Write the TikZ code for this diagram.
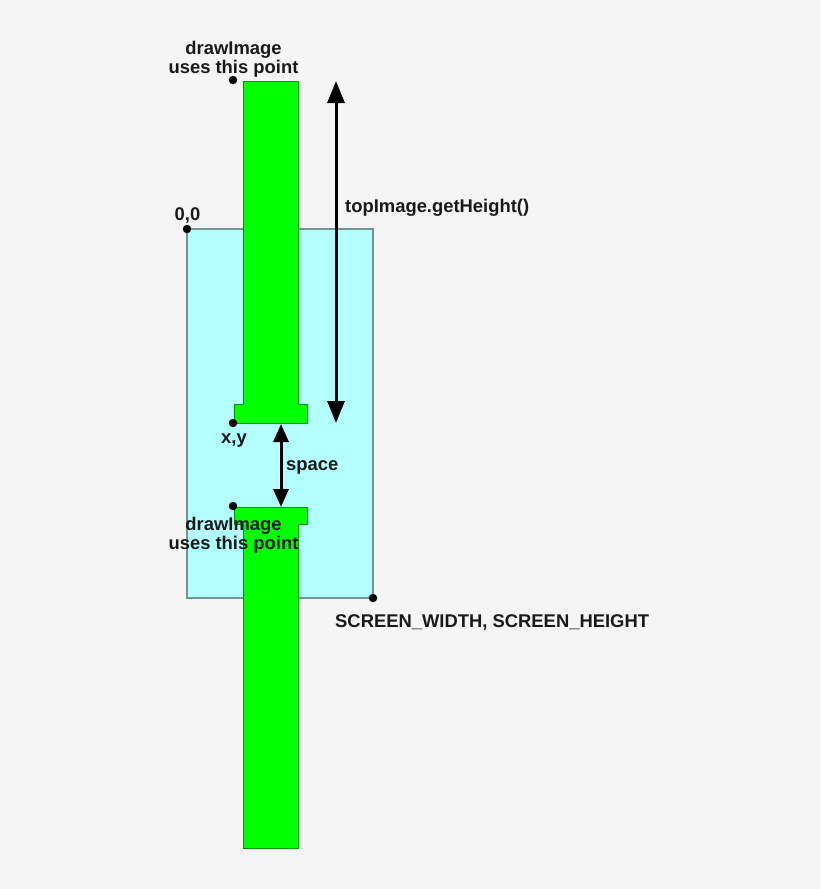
\documentclass[tikz,border=0pt]{standalone}
\usepackage{fontspec}
\setmainfont{Liberation Sans}
\usetikzlibrary{arrows.meta}
\definecolor{bgc}{RGB}{245,245,245}
\definecolor{screenfill}{RGB}{179,255,255}
\definecolor{screenline}{RGB}{110,150,150}
\definecolor{imgfill}{RGB}{0,255,0}
\definecolor{imgline}{RGB}{0,150,0}
\tikzset{
  lbl/.style={font=\fontsize{18.4}{18.5}\selectfont\bfseries, inner sep=0pt, text=black!90},
  dot/.style={circle, fill=black, inner sep=0pt, minimum size=8.5pt},
  screen/.style={fill=screenfill, draw=screenline, line width=1.3pt},
  img/.style={fill=imgfill, draw=imgline, line width=1pt},
  dim/.style={line width=3pt, {Triangle[length=22pt,width=17pt]}-{Triangle[length=22pt,width=17pt]}},
  dimsmall/.style={line width=3pt, {Triangle[length=18pt,width=15pt]}-{Triangle[length=18pt,width=15pt]}}
}
\begin{document}
\begin{tikzpicture}[x=1pt,y=-1pt]
\fill[bgc] (0,0) rectangle (820,889);
\useasboundingbox (0,0) rectangle (820,889);

% screen
\draw[screen] (187,229) rectangle (373,598);

% top image
\draw[img] (243,81) -- (298,81) -- (298,404) -- (307,404) -- (307,423) -- (234,423) -- (234,404) -- (243,404) -- cycle;
% bottom image
\draw[img] (234,507) -- (307,507) -- (307,524) -- (298,524) -- (298,848) -- (243,848) -- (243,524) -- (234,524) -- cycle;

% dots
\node[dot] (p1) at (233,80) {};
\node[dot] (p00) at (187,229) {};
\node[dot] (pxy) at (233,423) {};
\node[dot] (p2) at (233,506) {};
\node[dot] (pwh) at (373,598) {};

% arrows
\coordinate (hTop) at (336,81);
\coordinate (hBot) at (336,423);
\draw[dim] (hTop) -- (hBot);
\coordinate (sTop) at (281,424);
\coordinate (sBot) at (281,507);
\draw[dimsmall] (sTop) -- (sBot);

% labels
\node[lbl, align=center, anchor=north] (t1) at (233.5,41) {drawImage\\uses this point};
\node[lbl, anchor=base] (t00) at (187.5,220) {0,0};
\node[lbl, anchor=base west] (th) at (345,212) {topImage.getHeight()};
\node[lbl, anchor=base] (txy) at (234,443) {x,y};
\node[lbl, anchor=base west] (tsp) at (286,470) {space};
\node[lbl, align=center, anchor=north] (t2) at (233.5,517) {drawImage\\uses this point};
\node[lbl, anchor=base west] (twh) at (335,627) {SCREEN\_WIDTH, SCREEN\_HEIGHT};
\end{tikzpicture}
\end{document}
